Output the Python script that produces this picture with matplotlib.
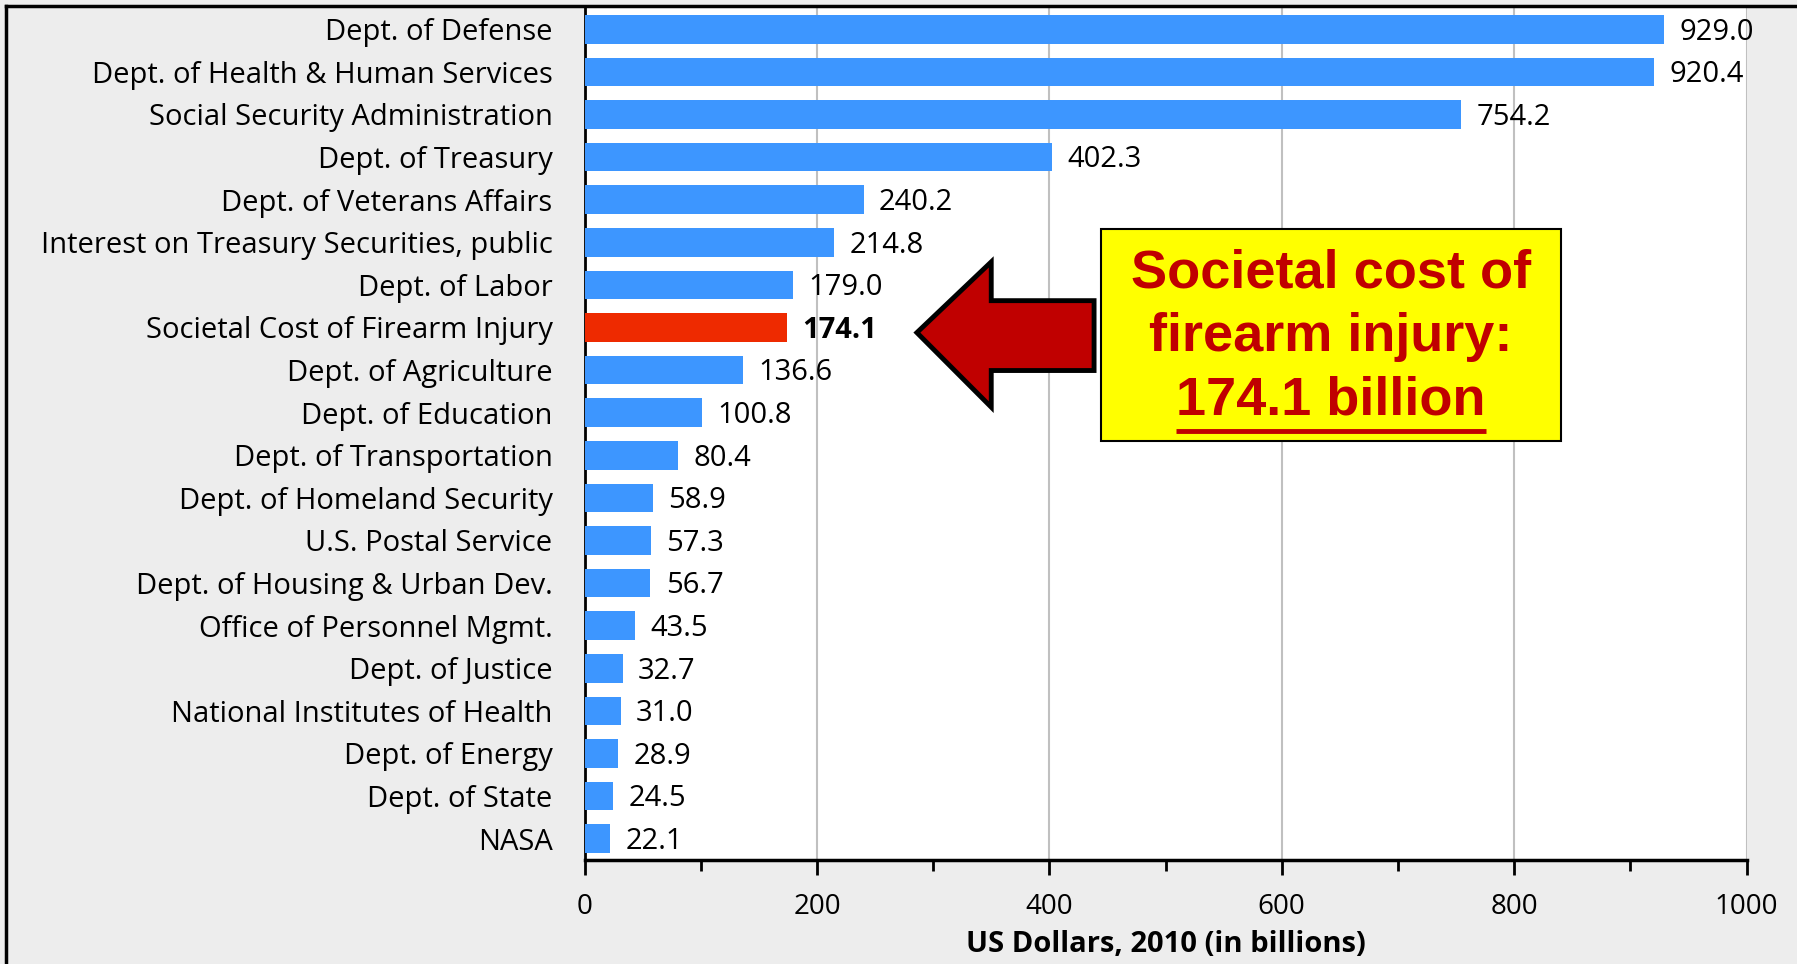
import matplotlib
matplotlib.use("Agg")
import matplotlib.pyplot as plt
from matplotlib.patches import Polygon, Rectangle
from matplotlib.lines import Line2D
import matplotlib.ticker as mtick

# Federal spending vs. societal cost of firearm injury (US$ billions, 2010)
agencies = [
    "Dept. of Defense", "Dept. of Health & Human Services",
    "Social Security Administration", "Dept. of Treasury",
    "Dept. of Veterans Affairs", "Interest on Treasury Securities, public",
    "Dept. of Labor", "Societal Cost of Firearm Injury",
    "Dept. of Agriculture", "Dept. of Education",
    "Dept. of Transportation", "Dept. of Homeland Security",
    "U.S. Postal Service", "Dept. of Housing & Urban Dev.",
    "Office of Personnel Mgmt.", "Dept. of Justice",
    "National Institutes of Health", "Dept. of Energy",
    "Dept. of State", "NASA",
]
spending = [929.0, 920.4, 754.2, 402.3, 240.2, 214.8, 179.0, 174.1, 136.6, 100.8,
            80.4, 58.9, 57.3, 56.7, 43.5, 32.7, 31.0, 28.9, 24.5, 22.1]
highlight = "Societal Cost of Firearm Injury"
x_ticks = [0, 200, 400, 600, 800, 1000]

blue = "#3d96ff"
red = "#ee2a00"
dark_red = "#c00000"
font = "Open Sans"
fs = 21

dpi = 100
fig = plt.figure(figsize=(1797 / dpi, 964 / dpi), dpi=dpi, facecolor="#ededed")
ax = fig.add_axes([0.3253, 0.1079, 0.6466, 0.8838])
ax.set_facecolor("white")

y_pos = list(range(len(agencies)))
colors = [red if a == highlight else blue for a in agencies]
ax.barh(y_pos, spending, height=0.67, color=colors, zorder=3)

ax.set_ylim(len(agencies) - 0.5, -0.5)
ax.set_xlim(0, 1000)
ax.set_yticks(y_pos)
ax.set_yticklabels(agencies, fontsize=fs, family=font)
ax.tick_params(axis="y", length=0, pad=23)

ax.set_xticks(x_ticks)
ax.set_xticklabels([str(t) for t in x_ticks], fontsize=20, family=font)
ax.xaxis.set_minor_locator(mtick.MultipleLocator(100))
ax.tick_params(axis="x", which="major", direction="out", length=11, width=2, pad=13)
ax.tick_params(axis="x", which="minor", direction="out", length=8, width=2)
ax.grid(axis="x", which="major", color="#c0c0c0", linewidth=1.5, zorder=0)
ax.set_xlabel("US Dollars, 2010 (in billions)", fontsize=fs, family=font,
              fontweight="bold", labelpad=6)

for s in ["top", "right"]:
    ax.spines[s].set_visible(False)
ax.spines["left"].set_linewidth(2)
ax.spines["bottom"].set_linewidth(2.5)

# value labels
for i, (a, v) in enumerate(zip(agencies, spending)):
    ax.annotate(f"{v:.1f}", xy=(v, i), xytext=(11, -2), textcoords="offset points",
                va="center", ha="left", fontsize=fs, family=font,
                fontweight="bold" if a == highlight else "normal")

# arrow pointing at the highlighted bar
arrow = Polygon([(286, 7.12), (350, 5.46), (350, 6.37), (438.5, 6.37),
                 (438.5, 8.01), (350, 8.01), (350, 8.87)],
                closed=True, facecolor=dark_red, edgecolor="black", linewidth=3.5,
                joinstyle="miter", zorder=5)
ax.add_patch(arrow)

# callout box
box = Rectangle((444.5, 4.69), 395.9, 4.98, facecolor="#ffff00", edgecolor="black",
                linewidth=1.5, zorder=5)
ax.add_patch(box)
box_font = ["Liberation Sans Narrow", "Liberation Sans"]
box_fs = 39
ax.text(642.5, 5.74, "Societal cost of", ha="center", va="center", fontsize=box_fs,
        fontweight="bold", color=dark_red, family=box_font, zorder=6)
ax.text(642.5, 7.23, "firearm injury:", ha="center", va="center", fontsize=box_fs,
        fontweight="bold", color=dark_red, family=box_font, zorder=6)
t3 = ax.text(642.5, 8.71, "174.1 billion", ha="center", va="center", fontsize=box_fs,
             fontweight="bold", color=dark_red, family=box_font, zorder=6)

# underline the amount
fig.canvas.draw()
bb = t3.get_window_extent().transformed(ax.transData.inverted())
ax.plot([bb.x0, bb.x1], [8.71 + 0.72, 8.71 + 0.72], color=dark_red, linewidth=3.5,
        solid_capstyle="butt", zorder=6)

# slide border on left and top
fig.add_artist(Line2D([0.0035, 0.0035], [0, 0.9935], transform=fig.transFigure,
                      color="black", linewidth=2.5))
fig.add_artist(Line2D([0.0035, 1], [0.9935, 0.9935], transform=fig.transFigure,
                      color="black", linewidth=2.5))

fig.savefig("out.png", dpi=dpi, facecolor=fig.get_facecolor())
